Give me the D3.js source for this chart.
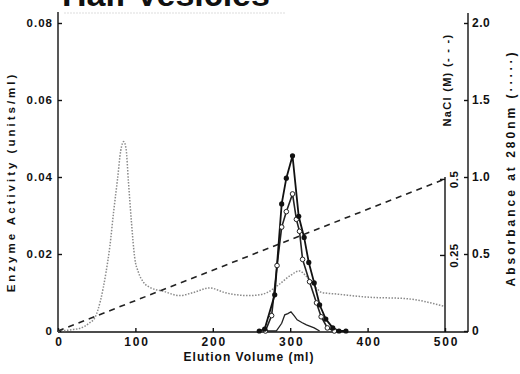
<!DOCTYPE html>
<html>
<head>
<meta charset="utf-8">
<script src="https://cdn.jsdelivr.net/npm/d3@7"></script>
<style>
  body { margin: 0; background: #fff; }
  svg { display: block; }
  text { font-family: "Liberation Sans", Arial, sans-serif; font-weight: bold; fill: #111; }
  .tick line, .axisline { stroke: #111; stroke-width: 1.4; }
</style>
</head>
<body>
<script>
// absorbance at 280nm, [ml, A]
const absorbance = [[0,0],[20,0.01],[30,0.02],[40,0.05],[48,0.09],[55,0.2],[62,0.38],[67,0.55],[72,0.78],[77,0.99],
  [81,1.17],[85,1.23],[88,1.18],[91,0.97],[95,0.7],[99,0.48],[104,0.38],[110,0.32],[120,0.28],[135,0.26],[157,0.23],
  [175,0.25],[196,0.28],[215,0.25],[247,0.23],[265,0.24],[285,0.3],[300,0.36],[312,0.39],[320,0.36],[330,0.3],
  [341,0.25],[360,0.24],[400,0.22],[450,0.21],[499,0.16]]
// NaCl gradient, [ml, M]
const nacl = [[0,0],[500,0.5]]
// enzyme activity, filled circles
const activityFilled = [[260,0],[267,0.0005],[280,0.0094],[289,0.033],[295,0.0397],[303,0.0455],[311,0.0298],
  [318,0.0243],[324,0.0178],[331,0.0125],[338,0.0068],[346,0.0031],[355,0.0008],[363,0],[372,0]]
// enzyme activity, open circles
const activityOpen = [[268,0],[276,0.004],[283,0.017],[289,0.027],[295,0.031],[303,0.0356],[308,0.029],[312,0.0259],
  [316,0.0186],[325,0.0128],[334,0.0073],[340,0.0037],[348,0.0008],[357,0]]
// small peak, no markers
const activitySmall = [[270,0],[282,0],[289,0.002],[293,0.0042],[297,0.0045],[301,0.005],[305,0.004],[309,0.0029],
  [315,0.0022],[321,0.0016],[331,0.0008],[338,0]]

const volumeTicks = [0,100,200,300,400,500]
const activityTicks = [0,0.02,0.04,0.06,0.08]
const naclTicks = [0.25,0.5]
const absTicks = [0,0.5,1.0,1.5,2.0]

const width = 520, height = 374
const plotLeft = 58, plotBottom = 332, plotTop = 23, outerX = 468

let svg = d3.select('body').append('svg')
  .attr('width', width)
  .attr('height', height)

let x = d3.scaleLinear().domain([0,500]).range([plotLeft, 445])
let yE = d3.scaleLinear().domain([0,0.08]).range([331, plotTop])
let yN = d3.scaleLinear().domain([0,0.5]).range([331, yE(0.0395)])
let yA = d3.scaleLinear().domain([0,2]).range([331, plotTop])

// title, cut off at the top like the source
svg.append('text')
  .attr('x', 62).attr('y', 6)
  .style('font-size', '34px')
  .text('Half Vesicles')

svg.append('line')
  .attr('x1', 64).attr('x2', 285).attr('y1', 13).attr('y2', 13)
  .attr('stroke', '#ddd').attr('stroke-width', 1).attr('stroke-dasharray', '2,1')

// axes
let gx = svg.append('g').attr('transform', `translate(0,${plotBottom})`)
  .call(d3.axisBottom(x).tickValues(volumeTicks).tickSize(-4).tickPadding(5).tickFormat(d3.format('d')))
gx.select('.domain').remove()
gx.selectAll('text').style('font-size', '12px').style('letter-spacing', '1.8px').attr('dx', '1')

let gl = svg.append('g').attr('transform', `translate(${plotLeft},0)`)
  .call(d3.axisLeft(yE).tickValues(activityTicks).tickSize(-4).tickPadding(5)
    .tickFormat(d => d === 0 ? '0' : d3.format('.2f')(d)))
gl.select('.domain').remove()
gl.selectAll('text').style('font-size', '11.5px').style('letter-spacing', '1px')

let gn = svg.append('g').attr('transform', `translate(${x(500)},0)`)
  .call(d3.axisRight(yN).tickValues(naclTicks).tickSize(-5).tickPadding(0).tickFormat(d => String(d)))
gn.select('.domain').remove()
gn.selectAll('text')
  .style('font-size', '11.5px')
  .style('letter-spacing', '0.5px')
  .attr('text-anchor', 'middle')
  .attr('dy', null)
  .attr('x', 0).attr('y', 0)
  .attr('transform', 'translate(13,0) rotate(-90)')

let ga = svg.append('g').attr('transform', `translate(${outerX},0)`)
  .call(d3.axisRight(yA).tickValues(absTicks).tickSize(-4).tickPadding(4).tickFormat(d => d === 0 ? '0' : d3.format('.1f')(d)))
ga.select('.domain').remove()
ga.selectAll('text').style('font-size', '12px').style('letter-spacing', '0.5px')

svg.append('line').attr('class', 'axisline').attr('x1', plotLeft).attr('x2', outerX).attr('y1', plotBottom).attr('y2', plotBottom)
svg.append('line').attr('class', 'axisline').attr('x1', plotLeft).attr('x2', plotLeft).attr('y1', 12).attr('y2', plotBottom)
svg.append('line').attr('class', 'axisline').attr('x1', outerX).attr('x2', outerX).attr('y1', 13).attr('y2', plotBottom)
svg.append('line').attr('class', 'axisline').attr('x1', x(500)).attr('x2', x(500)).attr('y1', yN(0.5) - 2).attr('y2', plotBottom)

// axis titles
svg.append('text')
  .attr('transform', `translate(15,182) rotate(-90)`)
  .attr('text-anchor', 'middle')
  .style('font-size', '11.5px')
  .style('letter-spacing', '3px')
  .text('Enzyme Activity (units/ml)')

svg.append('text')
  .attr('x', 249).attr('y', 361)
  .attr('text-anchor', 'middle')
  .style('font-size', '12px')
  .style('letter-spacing', '1px')
  .text('Elution Volume (ml)')

svg.append('text')
  .attr('transform', `translate(451,80) rotate(-90)`)
  .attr('text-anchor', 'middle')
  .style('font-size', '11px')
  .style('letter-spacing', '1.3px')
  .text('NaCl (M) (- - -)')

svg.append('text')
  .attr('transform', `translate(515,168) rotate(-90)`)
  .attr('text-anchor', 'middle')
  .style('font-size', '12px')
  .style('letter-spacing', '3px')
  .text('Absorbance at 280nm (·····)')

// series
let lineA = d3.line().x(d => x(d[0])).y(d => yA(d[1])).curve(d3.curveMonotoneX)
let lineN = d3.line().x(d => x(d[0])).y(d => yN(d[1]))
let lineE = d3.line().x(d => x(d[0])).y(d => yE(d[1]))

svg.append('path').datum(absorbance)
  .attr('d', lineA)
  .attr('fill', 'none').attr('stroke', '#8a8a8a').attr('stroke-width', 1.5)
  .attr('stroke-dasharray', '1.5,1.5')

svg.append('path').datum(nacl)
  .attr('d', lineN)
  .attr('fill', 'none').attr('stroke', '#222').attr('stroke-width', 1.6)
  .attr('stroke-dasharray', '6,5')

svg.append('path').datum(activitySmall)
  .attr('d', lineE)
  .attr('fill', 'none').attr('stroke', '#222').attr('stroke-width', 1.3)

svg.append('path').datum(activityOpen)
  .attr('d', lineE)
  .attr('fill', 'none').attr('stroke', '#222').attr('stroke-width', 1.6)

svg.append('path').datum(activityFilled)
  .attr('d', lineE)
  .attr('fill', 'none').attr('stroke', '#111').attr('stroke-width', 1.8)

svg.append('g').selectAll('circle')
  .data(activityOpen)
  .enter()
  .append('circle')
  .attr('cx', d => x(d[0]))
  .attr('cy', d => yE(d[1]))
  .attr('r', 2.3)
  .attr('fill', '#fff').attr('stroke', '#222').attr('stroke-width', 1)

svg.append('g').selectAll('circle')
  .data(activityFilled)
  .enter()
  .append('circle')
  .attr('cx', d => x(d[0]))
  .attr('cy', d => yE(d[1]))
  .attr('r', 2.6)
  .attr('fill', '#111')
</script>
</body>
</html>
